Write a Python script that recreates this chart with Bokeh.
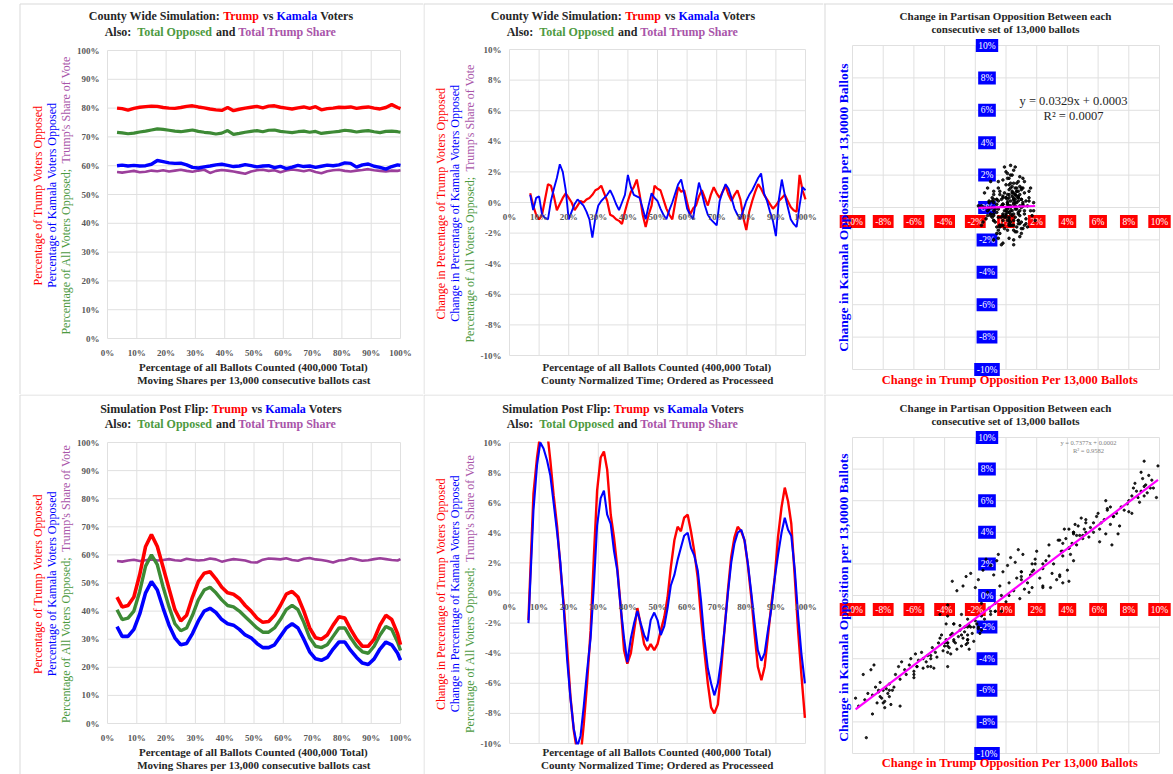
import math
from bokeh.plotting import figure
from bokeh.models import Label, Range1d
from bokeh.layouts import column, row
from bokeh.embed import file_html
from bokeh.resources import INLINE
from bokeh.core.properties import value

FONT = "Liberation Serif"
RED = "#ff0000"; BLUE = "#0000ff"; GREEN = "#3d8a35"; PURPLE = "#9b3f9b"
GREEN_T = "#4d9a3f"; PURPLE_T = "#a955a9"; DARK = "#262626"; TICK = "#595959"; GRID = "#e0e0e0"
MAGENTA = "#ff00ff"; BORDER = "#d9d9d9"

# ---------------- data (percent) ----------------
X_PCT_TICKS = [0, 10, 20, 30, 40, 50, 60, 70, 80, 90, 100]
Y_PCT_TICKS = [0, 10, 20, 30, 40, 50, 60, 70, 80, 90, 100]
CHG_TICKS = [-10, -8, -6, -4, -2, 0, 2, 4, 6, 8, 10]

# x positions (percentage of ballots counted) for the moving-share panels
x_share = [3.25, 5, 7, 9, 11, 13, 15, 17, 19, 21, 23, 25, 27, 29, 31, 33, 35, 37, 39, 41,
           43, 45, 47, 49, 51, 53, 55, 57, 59, 61, 63, 65, 67, 69, 71, 73, 75, 77, 79, 81,
           83, 85, 87, 89, 91, 93, 95, 97, 99, 100]

# County wide simulation (top-left)
cw_trump = [80.0, 79.8, 79.3, 79.9, 80.3, 80.5, 80.7, 80.6, 80.2, 80.0,
            79.9, 80.2, 80.6, 80.8, 80.4, 80.1, 79.7, 79.4, 79.2, 80.2,
            79.1, 79.6, 80.0, 80.3, 80.6, 80.1, 80.7, 80.8, 80.3, 80.0,
            79.7, 80.1, 80.4, 79.9, 80.5, 79.4, 79.8, 80.0, 80.3, 80.2,
            80.4, 79.9, 80.2, 80.4, 80.0, 79.7, 80.2, 81.2, 80.2, 79.8]
cw_total = [71.6, 71.4, 71.1, 71.3, 71.7, 72.0, 72.4, 72.8, 72.6, 72.3,
            72.0, 71.8, 72.1, 72.4, 71.9, 71.6, 71.4, 71.0, 71.3, 72.2,
            70.9, 71.2, 71.6, 71.9, 72.2, 71.8, 72.3, 72.4, 71.9, 71.7,
            71.5, 71.8, 72.0, 71.6, 71.9, 71.2, 71.5, 71.7, 71.9, 72.3,
            72.1, 71.7, 72.0, 72.2, 71.8, 71.5, 71.9, 72.0, 71.8, 71.6]
cw_kamala = [60.0, 60.2, 59.9, 60.1, 59.9, 60.0, 60.5, 61.8, 61.4, 61.0,
             60.8, 60.9, 60.3, 59.4, 59.2, 59.6, 59.9, 60.3, 60.5, 60.1,
             59.7, 59.9, 60.4, 60.0, 59.6, 59.9, 60.0, 59.3, 59.8, 59.0,
             59.5, 60.1, 59.7, 59.9, 59.4, 59.8, 60.2, 60.0, 60.3, 61.0,
             60.8, 59.5, 60.3, 60.6, 59.8, 59.4, 58.8, 59.7, 60.3, 60.1]
cw_share = [57.8, 57.6, 57.9, 58.2, 57.7, 57.9, 58.3, 58.1, 58.4, 58.0,
            58.3, 58.6, 58.2, 57.9, 58.3, 58.6, 57.5, 58.2, 58.5, 58.3,
            58.0, 57.6, 57.2, 58.0, 58.4, 58.6, 58.2, 58.4, 57.7, 58.3,
            58.7, 58.4, 58.1, 58.5, 57.8, 57.4, 58.1, 58.4, 58.6, 58.2,
            58.0, 58.3, 58.5, 58.8, 58.4, 58.2, 58.0, 58.3, 58.2, 58.4]

# Simulation post flip (bottom-left)
pf_trump = [45, 41.5, 42, 45, 53, 63, 67.2, 63, 55.5, 48,
            40.5, 36.5, 38.5, 45, 50.5, 53.5, 54, 51.5, 48.5, 46.5,
            46, 44.5, 42, 40, 37.5, 36, 36.3, 38.5, 42, 46,
            47, 45, 40, 34, 30.5, 30, 31.5, 35, 38, 37.5,
            33.5, 30, 27.5, 27.5, 30, 35, 38.5, 37, 32, 28]
pf_total = [40.5, 37, 37.5, 40, 47, 56, 60, 56.5, 48.5, 41.5,
            35.5, 33, 34, 38.5, 44, 47.5, 48.5, 46.5, 44, 42,
            41.5, 40, 38, 36, 34, 32.5, 32.5, 34, 37, 40.5,
            42, 40.5, 36, 30.5, 27.5, 27, 28, 31, 34, 34,
            30.5, 27.5, 25.5, 25, 27.5, 31.5, 34.5, 33.5, 29, 26]
pf_kamala = [34.5, 31, 31, 33.5, 39, 46.5, 50.5, 47.5, 41, 35,
             30.5, 28, 28.5, 32, 36.5, 40, 41, 39.5, 37, 35.5,
             35, 33.5, 31.5, 30.5, 28.5, 27, 27, 28, 31, 34,
             35.5, 34, 30, 25.5, 23, 22.5, 23.5, 26.5, 29, 29,
             26, 23.5, 21.5, 21, 23, 26.5, 29, 28, 25, 22.5]
pf_share = [57.8, 57.6, 58.0, 58.3, 57.8, 58.1, 58.4, 58.0, 58.2, 58.5,
            58.1, 57.9, 58.6, 58.3, 58.0, 58.2, 58.7, 58.4, 57.6, 58.1,
            58.5, 58.3, 58.0, 57.4, 57.3, 58.3, 58.7, 58.6, 58.4, 58.8,
            58.2, 57.9, 58.6, 58.9, 58.4, 58.2, 57.8, 57.3, 58.0, 58.2,
            58.8, 58.4, 57.9, 58.1, 58.5, 58.8, 58.5, 58.2, 58.0, 58.5]

# Change per 13,000 ballots, county wide (top-middle)
x_change = [7, 8, 9, 10, 11, 12, 13, 14, 15, 16, 17, 18, 19, 20, 21, 22, 23, 24, 25, 26,
            27, 28, 29, 30, 31, 32, 33, 34, 35, 36, 37, 38, 39, 40, 41, 42, 43, 44, 45, 46,
            47, 48, 49, 50, 51, 52, 53, 54, 55, 56, 57, 58, 59, 60, 61, 62, 63, 64, 65, 66,
            67, 68, 69, 70, 71, 72, 73, 74, 75, 76, 77, 78, 79, 80, 81, 82, 83, 84, 85, 86,
            87, 88, 89, 90, 91, 92, 93, 94, 95, 96, 97, 98, 99, 100]
chg_trump = [0.6, -0.2, -0.8, -1.1, -0.8, 0.2, 1.2, 1.1, 0.4, -0.5,
             -0.1, 0.3, 0.6, 0.3, 0.0, -0.5, -0.2, 0.1, 0.0, 0.2,
             0.3, 0.5, 0.8, 0.9, 1.1, 0.6, 0.1, -0.8, -0.9, -1.1,
             -1.2, -1.4, -0.6, 0.1, 0.7, 1.0, 1.5, 0.5, -0.8, -1.6,
             -0.8, -0.2, 1.1, 0.9, 0.8, 0.2, -0.4, -0.8, -1.1, 0.0,
             1.0, 0.7, 0.8, 0.0, -0.8, -0.4, -0.2, 0.4, 0.8, 0.3,
             -0.2, 0.5, 1.0, 0.6, 0.3, 0.7, 1.1, 0.5, 0.1, 0.5,
             0.8, 0.2, -1.0, -1.8, -0.6, 0.1, 0.7, 1.2, 0.9, 0.5,
             0.2, -0.1, -0.4, -0.2, 0.1, 0.3, 0.5, 0.1, -0.3, -0.5,
             -0.6, 1.8, 0.8, 0.2]
chg_kamala = [0.5, -0.5, 0.3, 0.4, -0.8, -1.0, -1.1, 0.1, 0.9, 1.6,
              2.5, 2.0, 0.8, -1.1, -0.6, -0.1, 0.2, 0.0, -0.2, -0.6,
              -1.1, -2.3, -1.0, -0.2, 0.1, 0.3, 0.5, 0.8, 0.4, -0.1,
              -0.5, 0.0, 0.5, 1.8, 1.0, 0.5, 0.4, 0.3, -0.4, -1.1,
              -0.2, 0.6, 0.3, 0.1, -0.4, -0.8, -1.1, -0.5, 0.0, 0.6,
              1.2, 1.5, 0.6, -0.4, -0.8, -1.1, 0.2, 1.3, 0.6, -0.2,
              -0.8, -1.1, -1.3, -1.5, 0.1, 0.7, 1.2, 0.9, 0.3, -0.4,
              -0.8, -1.1, -0.5, 0.1, 0.5, 0.8, 1.2, 1.6, 1.9, 0.6,
              0.1, -0.6, -1.2, -2.2, 0.2, 1.5, 0.5, -0.3, -1.1, -1.4,
              -1.6, -0.2, 1.0, 0.8]

# Change per 13,000 ballots, post flip (bottom-middle)
x_flip = [6.4, 8.1, 9.3, 10.4, 11.5, 12.7, 13.8, 14.9, 16.1, 17.2,
          18.3, 19.5, 20.6, 21.7, 22.9, 24.0, 25.1, 26.2, 27.4, 28.5,
          29.6, 30.8, 31.9, 33.0, 34.2, 35.3, 36.4, 37.6, 38.7, 39.8,
          41.0, 42.1, 43.2, 44.3, 45.5, 46.6, 47.7, 48.9, 50.0, 51.1,
          52.3, 53.4, 54.5, 55.7, 56.8, 57.9, 59.0, 60.2, 61.3, 62.4,
          63.6, 64.7, 65.8, 67.0, 68.1, 69.2, 70.4, 71.5, 72.6, 73.8,
          74.9, 76.0, 77.1, 78.3, 79.4, 80.5, 81.7, 82.8, 83.9, 85.1,
          86.2, 87.3, 88.5, 89.6, 90.7, 91.9, 93.0, 94.1, 95.2, 96.4,
          97.5, 98.6, 99.8]
flip_trump = [-1.8, 6.6, 9.0, 10.6, 11.2, 10.8, 8.8, 6.5, 4.4, 1.7,
              -0.7, -3.8, -6.9, -9.1, -10.6, -10.9, -8.7, -6.0, -2.5, 2.4,
              6.8, 9.0, 9.4, 8.2, 5.2, 3.7, 1.7, -1.0, -3.8, -4.7,
              -4.0, -2.5, -1.0, -2.1, -3.4, -3.8, -3.4, -3.8, -3.4, -2.5,
              -1.6, -0.3, 1.7, 3.5, 4.4, 4.1, 5.0, 5.2, 4.1, 2.8,
              1.0, -1.6, -3.8, -6.0, -7.6, -8.0, -7.4, -5.1, -2.5, 0.2,
              2.4, 3.7, 4.4, 4.1, 3.5, 1.9, -0.3, -2.7, -4.9, -5.8,
              -4.9, -2.9, -0.7, 1.0, 3.7, 5.7, 7.0, 6.1, 4.6, 1.0,
              -2.5, -5.4, -8.3]
flip_kamala = [-2.0, 5.5, 8.5, 10.0, 9.6, 8.8, 7.8, 6.0, 4.0, 2.0,
               -1.0, -4.5, -7.0, -9.0, -10.2, -9.5, -7.5, -5.2, -3.0, 0.5,
               4.5, 6.3, 6.8, 5.2, 4.6, 2.8, 1.5, -1.0, -3.0, -4.6,
               -3.0, -2.0, -1.2, -2.0, -2.8, -3.2, -1.8, -1.3, -1.8, -2.8,
               -2.2, -1.0, 0.5, 1.2, 2.2, 3.0, 3.8, 4.0, 3.0, 2.5,
               1.5, -0.5, -3.0, -5.0, -6.0, -6.8, -6.0, -4.5, -2.5, 0.0,
               2.0, 3.3, 4.0, 4.2, 3.5, 2.0, 0.0, -2.0, -3.8, -4.5,
               -4.0, -2.5, -1.0, 1.0, 2.5, 4.0, 5.0, 4.2, 3.8, 1.5,
               -1.5, -4.0, -6.0]

# additional scatter points (x = Trump change, y = Kamala change)
cw_sc_x = [0.1, 0.4, -0.3, 0.6, 0.9, -0.6, 0.2, 1.1, -0.9, 0.3, 0.7, -0.2, 1.3, 0.5, -0.5, 1.5, -1.2, 0.0,
           0.8, -0.1, 0.4, 0.6, 0.2, -0.4, -0.8, 1.0, 1.6, 1.8, -1.4, -1.6, 0.9, 1.2, -0.7, 0.3, 0.5, -0.1,
           0.7, 0.1, 1.4, -1.0, 0.0, 1.1, 0.5, -0.3, 1.9, -1.5, 0.8, 0.2, -0.6, 1.0, 0.4, -0.2, 0.6, 1.3,
           -0.9, 0.9, 0.2, -0.4, 0.7, 0.0, 1.2, -1.1, 0.3, 0.5, -0.5, 1.6, -0.8, 0.1, 0.8, 1.0,
           0.0, 0.2, 0.5, -0.3, 0.4, 0.8, -0.5, 0.1, 0.6, -0.2, 1.0, 0.3, -0.7, 0.9, 0.2, -0.4, 1.2,
           0.6, -0.1, 0.4, 1.1, -0.8, 0.7, 0.0, -0.3, 0.5, 1.4, -1.0, 0.3, 0.8, -0.2, 0.1, 0.3, 0.5,
           0.9, -0.5, 0.2, -1.3, 1.7, 1.5, -1.2, 0.6, 0.1, -0.6, 1.3, 0.4, -0.9, 1.0, 0.7, -0.2]
cw_sc_y = [0.3, -0.2, 0.5, 0.8, -0.5, -0.3, 1.1, 0.2, 0.6, -0.9, -1.2, -1.1, -0.7, 1.5, 1.2, 0.6, -0.2, -0.5,
           0.4, 0.9, 2.0, 2.5, 1.8, -1.6, -2.0, -1.6, -0.2, 0.3, 0.9, 0.1, 1.3, 0.9, -0.9, 0.0, 0.5, -0.2,
           -0.1, -1.4, -1.2, 1.6, 2.2, 1.8, -2.0, -2.3, -0.8, -0.9, -0.8, 0.6, 0.2, 0.0, -0.5, 0.2, 0.1, 0.4,
           -0.6, -1.0, -0.7, 0.8, 1.0, 1.4, -0.4, 0.3, 1.2, -1.4, -0.6, 1.2, 1.0, -0.1, 0.7, -0.9,
           0.0, -0.3, 0.2, -0.6, 0.7, -0.3, 0.4, -0.8, -0.6, 0.7, 0.5, 0.4, -0.1, 0.8, 1.4, 1.0, -0.2,
           1.2, -1.3, -1.1, -1.3, 0.5, 0.3, 0.6, 0.1, -0.8, 0.1, -0.4, -0.4, 1.6, 1.7, 2.1, 2.6, 2.3,
           -1.8, -1.9, -1.9, -0.7, -0.5, 1.0, 1.2, -0.1, 0.2, -1.2, -1.0, 1.0, 0.0, 1.1, -1.5, -0.4]
pf_sc_x = [-9.8, -9.6, -9.3, -9.0, -8.8, -8.5, -8.2, -8.0, -7.9, -7.7, -7.6, -7.5, -7.2, -7.0, -8.6, -6.6,
           -6.2, -5.8, -5.5, -5.2, -4.8, -4.5, -4.3, -4.0, -3.8, -3.6, -3.4, -3.2, -3.0, -2.8, -2.6, -2.4,
           -2.2, -2.0, -1.8, -1.6, -4.9, -3.9, -2.9,
           -3.5, -2.6, -2.0, -1.5, -1.0, -0.6, -0.2, 0.3, 0.8, -1.2, -0.4, 0.0, 0.5,
           1.0, 1.4, 1.8, 2.2, 2.6, 3.0, 3.3, 3.7, 4.0, 4.2, 2.0, 2.8,
           3.4, 3.8, 4.1, 4.4, 4.7, 5.0, 5.2, 4.6, 5.5, 5.9, 6.2, 6.6, 6.1, 6.9, 7.3, 7.0, 7.5, 7.9,
           8.2, 8.5, 8.7, 9.0, 9.2, 9.5, 9.8, 9.9, 8.4, 8.9,
           -8.3, -8.1, -7.8, -8.4, -7.6, -8.7, -9.2, -7.3, -7.9, -8.2,
           -6.9, -6.5, -6.3, -6.0, -5.7, -5.4, -5.1, -6.8, -5.9,
           -4.4, -4.1, -3.9, -3.7, -3.5, -3.3, -3.1, -2.9, -2.7, -2.5, -2.3, -2.1, -1.9, -1.7, -4.6, -4.2,
           -3.6, -3.0, -2.4, -1.4,
           -4.3, -3.8, -3.2, -2.8, -2.3, -1.8, -1.3, -0.8, -0.5, 0.1, 0.6, 1.1,
           0.2, 0.7, 1.2, 1.6, -0.7, -1.1, 0.9, 1.5, 2.4, 2.9, 3.5, 4.1, 3.1, 2.4, 1.9,
           3.6, 3.9, 4.3, 4.5, 4.8, 5.1, 4.9, 5.4, 5.7, 6.0, 6.4, 6.8, 7.2, 7.7, 8.0, 8.3, 8.6, 8.8,
           9.1, 9.3, 9.6, 8.0, 7.4, 6.5]
pf_sc_y = [-6.5, -7.0, -5.0, -6.2, -4.7, -5.8, -6.4, -6.0, -6.7, -6.2, -5.6, -6.9, -5.0, -4.5, -4.4, -4.7,
           -4.0, -4.5, -3.6, -4.2, -3.3, -3.9, -2.7, -3.2, -3.6, -2.5, -2.9, -3.4, -2.2, -2.7, -3.1, -1.9,
           -2.4, -1.6, -2.1, -1.3, -4.5, -1.8, -1.2,
           0.9, 1.2, 0.5, 1.6, 1.9, 2.2, 1.5, 2.4, 2.9, 0.2, 0.6, -0.4, 0.3,
           1.2, 0.8, 1.6, 1.1, 2.2, 1.4, 1.0, 0.8, 1.6, 2.6, 2.8, 3.2,
           3.5, 4.2, 3.0, 3.9, 4.4, 3.6, 4.8, 3.2, 4.3, 5.0, 4.6, 5.4, 3.4, 3.2, 3.9, 5.0, 5.6, 5.8,
           6.3, 6.6, 5.9, 6.9, 6.5, 7.3, 6.2, 8.2, 7.1, 7.4,
           -6.1, -6.5, -5.9, -6.8, -6.4, -6.3, -6.6, -5.8, -7.1, -5.5,
           -5.3, -5.0, -4.4, -4.8, -4.1, -4.6, -3.8, -4.2, -3.7,
           -3.0, -3.5, -2.8, -3.3, -2.4, -3.0, -2.6, -3.2, -2.3, -2.8, -2.0, -2.9, -1.8, -2.4, -3.6, -2.5,
           -3.7, -1.9, -3.4, -1.5,
           -1.2, -0.6, 0.3, 0.6, 1.4, 1.0, 2.3, 1.3, 2.6, 1.9, 2.1, 2.6,
           0.8, 1.1, 0.4, 1.3, -0.5, -0.8, -0.2, 0.2, 0.6, 0.5, 1.3, 0.9, 2.0, 1.7, 2.3,
           2.8, 3.6, 3.3, 4.5, 3.8, 4.2, 4.9, 3.7, 4.6, 5.2, 4.8, 5.6, 5.2, 5.4, 6.0, 6.8, 6.2, 6.6,
           7.0, 7.6, 6.8, 5.3, 4.4, 3.9]

# linear trendline coefficients shown on the scatter panels
cw_fit = (0.0329, 0.0003, 0.0007)   # slope, intercept, R^2
pf_fit = (0.7377, 0.0002, 0.9582)

# ---------------- text width helper (Times metrics) ----------------
_UP = "ABCDEFGHIJKLMNOPQRSTUVWXYZ"
_LO = "abcdefghijklmnopqrstuvwxyz"
_REG = dict(zip(_UP, [722, 667, 667, 722, 611, 556, 722, 722, 333, 389, 722, 611, 889, 722, 722, 556, 722, 667, 556, 611, 722, 722, 944, 722, 722, 611]))
_REG.update(zip(_LO, [444, 500, 444, 500, 444, 333, 500, 500, 278, 278, 500, 278, 778, 500, 500, 500, 500, 333, 389, 278, 500, 500, 722, 500, 500, 444]))
_REG.update({' ': 250, '(': 333, ')': 333, '+': 564, ',': 250, '-': 333, '.': 250, ':': 278, ';': 278, '=': 564, '%': 833, "'": 180, '²': 300})
_BOLD = dict(zip(_UP, [722, 667, 722, 722, 667, 611, 778, 778, 389, 500, 778, 667, 944, 722, 778, 611, 778, 722, 556, 667, 722, 722, 1000, 722, 722, 667]))
_BOLD.update(zip(_LO, [500, 556, 444, 556, 444, 333, 500, 556, 278, 333, 556, 278, 833, 556, 500, 556, 556, 444, 389, 333, 556, 500, 722, 500, 500, 444]))
_BOLD.update({' ': 250, '(': 333, ')': 333, '+': 570, ',': 250, '-': 333, '.': 250, ':': 333, ';': 333, '=': 570, '%': 1000, "'": 278, '²': 300})


def tw(s, size, bold=False):
    t = _BOLD if bold else _REG
    return sum(t.get(ch, 500) for ch in s) * size / 1000.0


class Panel:
    """A figure whose frame is the whole chart box; the plot area (fl..fr, ft..fb in page
    pixels) maps to the data ranges xr, yr through the figure's own linear scales."""

    def __init__(self, ox, oy, w, h, fl, ft, fr, fb, xr, yr):
        self.fl, self.ft, self.fr, self.fb, self.xr, self.yr = fl, ft, fr, fb, xr, yr
        x0, _ = self.d(ox, 0)
        x1, _ = self.d(ox + w, 0)
        _, ytop = self.d(0, oy)
        _, ybot = self.d(0, oy + h)
        self.full = (x0, x1, ybot, ytop)
        p = figure(width=w, height=h, x_range=Range1d(x0, x1), y_range=Range1d(ybot, ytop),
                   output_backend="svg", toolbar_location=None, title=None,
                   x_axis_type=None, y_axis_type=None, min_border=0,
                   min_border_left=0, min_border_right=0, min_border_top=0, min_border_bottom=0)
        p.outline_line_color = None
        p.background_fill_color = "white"
        p.border_fill_color = "white"
        self.p = p

    def d(self, X, Y):
        x = self.xr[0] + (X - self.fl) / (self.fr - self.fl) * (self.xr[1] - self.xr[0])
        y = self.yr[1] - (Y - self.ft) / (self.fb - self.ft) * (self.yr[1] - self.yr[0])
        return x, y

    def px(self, x, y):
        X = self.fl + (x - self.xr[0]) / (self.xr[1] - self.xr[0]) * (self.fr - self.fl)
        Y = self.ft + (self.yr[1] - y) / (self.yr[1] - self.yr[0]) * (self.fb - self.ft)
        return X, Y

    def borders(self, segs):
        # light chart-area borders, given in page pixels
        a = [self.d(s[0], s[1]) for s in segs]
        b = [self.d(s[2], s[3]) for s in segs]
        self.p.segment(x0=[q[0] for q in a], y0=[q[1] for q in a], x1=[q[0] for q in b],
                       y1=[q[1] for q in b], line_color=BORDER, line_width=1)

    def grid(self, xticks, yticks):
        n, m = len(xticks), len(yticks)
        self.p.segment(x0=xticks, x1=xticks, y0=[self.yr[0]] * n, y1=[self.yr[1]] * n,
                       line_color=GRID, line_width=1)
        self.p.segment(x0=[self.xr[0]] * m, x1=[self.xr[1]] * m, y0=yticks, y1=yticks,
                       line_color=GRID, line_width=1)

    def ticktext(self, xs, ys, labels, align, color=TICK, size="9px", style="bold"):
        self.p.text(x=xs, y=ys, text=labels, text_color=color, text_font=value(FONT),
                    text_font_size=size, text_font_style=style, text_align=align,
                    text_baseline="middle")

    def _label(self, X, Y, txt, color, size, bold, angle=0.0):
        x, y = self.d(X, Y)
        self.p.add_layout(Label(x=x, y=y, text=txt, text_color=color, text_font=FONT,
                                text_font_size=f"{size}px",
                                text_font_style="bold" if bold else "normal",
                                text_align="left", text_baseline="middle", angle=angle))

    def hline(self, cx, cy, pieces, size, bold):
        widths = [tw(t, size, bold) for t, _ in pieces]
        X = cx - sum(widths) / 2
        for (t, c), wd in zip(pieces, widths):
            lead = len(t) - len(t.lstrip(' '))
            if t.strip():
                self._label(X + tw(' ' * lead, size, bold), cy, t.strip(), c, size, bold)
            X += wd

    def vline(self, cx, cy, pieces, size, bold):
        widths = [tw(t, size, bold) for t, _ in pieces]
        Y = cy + sum(widths) / 2
        for (t, c), wd in zip(pieces, widths):
            lead = len(t) - len(t.lstrip(' '))
            if t.strip():
                self._label(cx, Y - tw(' ' * lead, size, bold), t.strip(), c, size, bold, math.pi / 2)
            Y -= wd


TITLE_TOP_1 = [("County Wide Simulation: ", DARK), ("Trump", RED), (" vs ", DARK), ("Kamala", BLUE), (" Voters", DARK)]
TITLE_BOT_1 = [("Simulation Post Flip: ", DARK), ("Trump", RED), (" vs ", DARK), ("Kamala", BLUE), (" Voters", DARK)]
TITLE_2 = [("Also:  ", DARK), ("Total Opposed", GREEN_T), (" and ", DARK), ("Total Trump Share", PURPLE_T)]
YL_SHARE = [[("Percentage of Trump Voters Opposed", RED)],
            [("Percentage of Kamala Voters Opposed", BLUE)],
            [("Percentage of All Voters Opposed; ", GREEN_T), ("Trump's Share of Vote", PURPLE_T)]]
YL_CHG = [[("Change in Percentage of Trump Voters Opposed", RED)],
          [("Change in Percentage of Kamala Voters Opposed", BLUE)],
          [("Percentage of All Voters Opposed; ", GREEN_T), ("Trump's Share of Vote", PURPLE_T)]]
XT_1 = "Percentage of all Ballots Counted (400,000 Total)"
XT_SHARE = "Moving Shares per 13,000 consecutive ballots cast"
XT_CHG = "County Normalized Time; Ordered as Processeed"
SC_T1 = "Change in Partisan Opposition Between each"
SC_T2 = "consecutive set of 13,000 ballots"
SC_X = "Change in Trump Opposition Per 13,000 Ballots"
SC_Y = "Change in Kamala Opposition per 13,0000 Ballots"

frac = lambda a: [v / 100.0 for v in a]
pct_ticks = frac(X_PCT_TICKS)
ypct_ticks = frac(Y_PCT_TICKS)
chg_ticks = frac(CHG_TICKS)
pct_labels = [f"{v}%" for v in X_PCT_TICKS]
ypct_labels = [f"{v}%" for v in Y_PCT_TICKS]
chg_labels = [f"{v}%" for v in CHG_TICKS]


def share_panel(oy, h, ft, fb, title1, cys, series, ylx, xt_y, segs):
    fl, fr = 107, 400
    P = Panel(0, oy, 423, h, fl, ft, fr, fb, (0, 1), (0, 1))
    p = P.p
    P.borders(segs)
    P.grid(pct_ticks, ypct_ticks)
    xs = frac(x_share)
    for ys, col, lw in series:
        p.line(xs, frac(ys), line_color=col, line_width=lw)
    xl = P.d(fl - 8, 0)[0]
    P.ticktext([xl] * len(ypct_ticks), ypct_ticks, ypct_labels, "right")
    yl = P.d(0, fb + 14)[1]
    P.ticktext(pct_ticks, [yl] * len(pct_ticks), pct_labels, "center")
    P.hline(221, cys[0], title1, 12, True)
    P.hline(221, cys[1], TITLE_2, 12, True)
    cy = (ft + fb) / 2
    for xx, pieces in zip(ylx, YL_SHARE):
        P.vline(xx, cy, pieces, 12, False)
    P.hline((fl + fr) / 2, xt_y[0], [(XT_1, DARK)], 11, True)
    P.hline((fl + fr) / 2, xt_y[1], [(XT_SHARE, DARK)], 11, True)
    return p


def change_panel(oy, h, ft, fb, title1, cys, xs, red, blue, lw, ylx, xt_y, segs):
    fl, fr = 509, 805
    P = Panel(423, oy, 400, h, fl, ft, fr, fb, (0, 1), (-0.1, 0.1))
    p = P.p
    P.grid(pct_ticks, chg_ticks)
    p.line(frac(xs), frac(red), line_color=RED, line_width=lw)
    p.line(frac(xs), frac(blue), line_color=BLUE, line_width=lw - 0.3)
    # white masks outside the plot area (the series are clipped at the axis limits)
    x0, x1, ybot, ytop = P.full
    top_edge = P.d(0, ft - 1)[1]
    bot_edge = P.d(0, fb + 1)[1]
    p.quad(left=[x0, x0], right=[x1, x1], bottom=[top_edge, ybot], top=[ytop, bot_edge],
           fill_color="white", line_color=None)
    P.borders(segs)
    xl = P.d(fl - 8, 0)[0]
    P.ticktext([xl] * len(chg_ticks), chg_ticks, chg_labels, "right")
    Y0 = P.px(0, 0)[1]
    yl = P.d(0, Y0 + 14)[1]
    P.ticktext(pct_ticks, [yl] * len(pct_ticks), pct_labels, "center")
    P.hline(623, cys[0], title1, 12, True)
    P.hline(623, cys[1], TITLE_2, 12, True)
    cy = (ft + fb) / 2
    for xx, pieces in zip(ylx, YL_CHG):
        P.vline(xx, cy, pieces, 12, False)
    P.hline((fl + fr) / 2, xt_y[0], [(XT_1, DARK)], 11, True)
    P.hline((fl + fr) / 2, xt_y[1], [(XT_CHG, DARK)], 11, True)
    return p


def scatter_panel(oy, h, ft, fb, cys, sx, sy, fit, eq_pos, eq_size, eq_color, xt_y, yt_cy, segs, msize):
    fl, fr = 852, 1159
    P = Panel(823, oy, 350, h, fl, ft, fr, fb, (-0.1, 0.1), (-0.1, 0.1))
    p = P.p
    P.borders(segs)
    P.grid(chg_ticks, chg_ticks)
    X0, Y0 = P.px(0, 0)
    yrow = P.d(X0, Y0 + 14)[1]
    xcol = P.d(X0 - 19, Y0)[0]
    bw = [tw(s, 9.5) + 5 for s in chg_labels]
    n = len(chg_labels)
    p.rect(x=[xcol] * n, y=chg_ticks, width=bw, height=[13] * n, width_units="screen",
           height_units="screen", fill_color=BLUE, line_color=None)
    P.ticktext([xcol] * n, chg_ticks, chg_labels, "center", color="white", size="9.5px", style="normal")
    p.rect(x=chg_ticks, y=[yrow] * n, width=bw, height=[13] * n, width_units="screen",
           height_units="screen", fill_color=RED, line_color=None)
    P.ticktext(chg_ticks, [yrow] * n, chg_labels, "center", color="white", size="9.5px", style="normal")
    pts = [(a / 100.0, b / 100.0) for a, b in zip(sx, sy) if -10 <= a <= 10 and -10 <= b <= 10]
    xs = [a for a, _ in pts]
    ys = [b for _, b in pts]
    p.scatter(xs, ys, size=msize, color="black", alpha=0.85)
    slope, icpt, r2 = fit
    lx = [max(min(xs), -0.1), min(max(xs), 0.1)]
    p.line(lx, [slope * v + icpt for v in lx], line_color=MAGENTA, line_width=2.2)
    P.hline(1005, cys[0], [(SC_T1, DARK)], 11, True)
    P.hline(1005, cys[1], [(SC_T2, DARK)], 11, True)
    P.hline(eq_pos[0], eq_pos[1], [(f"y = {slope:.4f}x + {icpt:.4f}", eq_color)], eq_size, False)
    P.hline(eq_pos[0], eq_pos[1] + eq_size * 1.2, [(f"R² = {r2:.4f}", eq_color)], eq_size, False)
    P.hline(1010, xt_y, [(SC_X, RED)], 12.5, True)
    P.vline(843, yt_cy, [(SC_Y, BLUE)], 13.5, True)
    return p


pA = share_panel(0, 394, 50, 338, TITLE_TOP_1, (15, 31),
                 [(cw_share, PURPLE, 2.6), (cw_total, GREEN, 3.2), (cw_kamala, BLUE, 3.4), (cw_trump, RED, 3.4)],
                 (37, 51, 65), (366, 379), [(19.5, 3.5, 19.5, 394), (19.5, 3.5, 423, 3.5)])
pB = change_panel(0, 394, 49, 355, TITLE_TOP_1, (15, 31), x_change, chg_trump, chg_kamala, 2.2,
                  (440, 454, 469), (366, 379), [(423.5, 3.5, 423.5, 394), (423, 3.5, 823, 3.5)])
pC = scatter_panel(0, 394, 45, 369, (15, 28), chg_trump + cw_sc_x, chg_kamala + cw_sc_y, cw_fit,
                   (1073, 100), 12.5, DARK, 379, 207,
                   [(824.5, 3.5, 824.5, 394), (823, 3.5, 1173, 3.5)], 2.6)

pE = share_panel(394, 380, 442, 723, TITLE_BOT_1, (408, 423),
                 [(pf_share, PURPLE, 2.6), (pf_total, GREEN, 3.4), (pf_kamala, BLUE, 3.6), (pf_trump, RED, 3.6)],
                 (37, 51, 65), (751, 764), [(19.5, 394.5, 19.5, 774), (19.5, 394.5, 423, 394.5)])
pF = change_panel(394, 380, 442, 743, TITLE_BOT_1, (408, 423), x_flip, flip_trump, flip_kamala, 2.4,
                  (440, 454, 469), (751, 764), [(423.5, 394.5, 423.5, 774), (423, 394.5, 823, 394.5)])
pD = scatter_panel(394, 380, 437, 753, (407, 420), flip_trump + pf_sc_x, flip_kamala + pf_sc_y, pf_fit,
                   (1088, 442), 6.5, "#7f7f7f", 762, 597,
                   [(824.5, 394.5, 824.5, 774), (823, 394.5, 1173, 394.5)], 2.3)

layout = column(row(pA, pB, pC), row(pE, pF, pD))
open("out.html", "w").write(file_html(layout, INLINE))
